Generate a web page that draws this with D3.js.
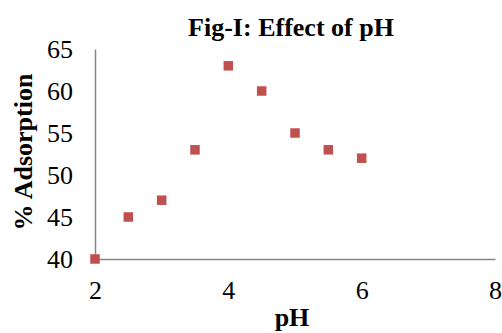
<!DOCTYPE html>
<html>
<head>
<meta charset="utf-8">
<script src="https://cdn.jsdelivr.net/npm/d3@7"></script>
<style>
  body { margin: 0; background: #fff; }
  svg text { font-family: "Liberation Serif", "Times New Roman", serif; }
</style>
</head>
<body>
<div id="chart"></div>
<script>
// Data
const phValues = [2, 2.5, 3, 3.5, 4, 4.5, 5, 5.5, 6];
const adsorption = [40, 45, 47, 53, 63, 60, 55, 53, 52];
const xTicks = [2, 4, 6, 8];
const yTicks = [40, 45, 50, 55, 60, 65];

const data = phValues.map((p, i) => ({ ph: p, ads: adsorption[i] }));

const serif = "'Liberation Serif', 'Times New Roman', serif";

const margin = { top: 49, right: 7, bottom: 74, left: 95 },
      width = 502 - margin.left - margin.right,
      height = 333 - margin.top - margin.bottom;

const svg = d3.select("#chart")
  .append("svg")
  .attr("width", 502)
  .attr("height", 333);

const g = svg.append("g")
  .attr("transform", `translate(${margin.left},${margin.top})`);

const x = d3.scaleLinear().domain([2, 8]).range([0, width]);
const y = d3.scaleLinear().domain([40, 65]).range([height, 0]);

// x axis
const xAxis = g.append("g")
  .attr("transform", `translate(0,${height})`)
  .call(d3.axisBottom(x).tickValues(xTicks).tickSize(0).tickPadding(22).tickFormat(d3.format("d")));
xAxis.attr("font-family", null);
xAxis.select(".domain").attr("stroke", "#868686").attr("stroke-width", 1.5);
xAxis.selectAll("text")
  .style("font-family", serif)
  .style("font-size", "26px")
  .attr("fill", "#000");

// y axis
const yAxis = g.append("g")
  .call(d3.axisLeft(y).tickValues(yTicks).tickSize(0).tickPadding(22).tickFormat(d3.format("d")));
yAxis.attr("font-family", null);
yAxis.select(".domain").attr("stroke", "#868686").attr("stroke-width", 1.5);
yAxis.selectAll("text")
  .style("font-family", serif)
  .style("font-size", "26px")
  .attr("fill", "#000");

// markers
const ms = 9.5;
g.selectAll(".pt")
  .data(data)
  .enter().append("rect")
  .attr("class", "pt")
  .attr("x", d => x(d.ph) - ms / 2)
  .attr("y", d => y(d.ads) - ms / 2)
  .attr("width", ms)
  .attr("height", ms)
  .attr("fill", "#C0504D");

// title
svg.append("text")
  .attr("x", 291)
  .attr("y", 36)
  .attr("text-anchor", "middle")
  .attr("font-size", 26)
  .attr("font-weight", "bold")
  .text("Fig-I: Effect of pH");

// x axis label
svg.append("text")
  .attr("x", 292)
  .attr("y", 326)
  .attr("text-anchor", "middle")
  .attr("font-size", 26)
  .attr("font-weight", "bold")
  .text("pH");

// y axis label
svg.append("text")
  .attr("transform", "translate(32,152) rotate(-90)")
  .attr("text-anchor", "middle")
  .attr("font-size", 26)
  .attr("font-weight", "bold")
  .text("% Adsorption");
</script>
</body>
</html>
